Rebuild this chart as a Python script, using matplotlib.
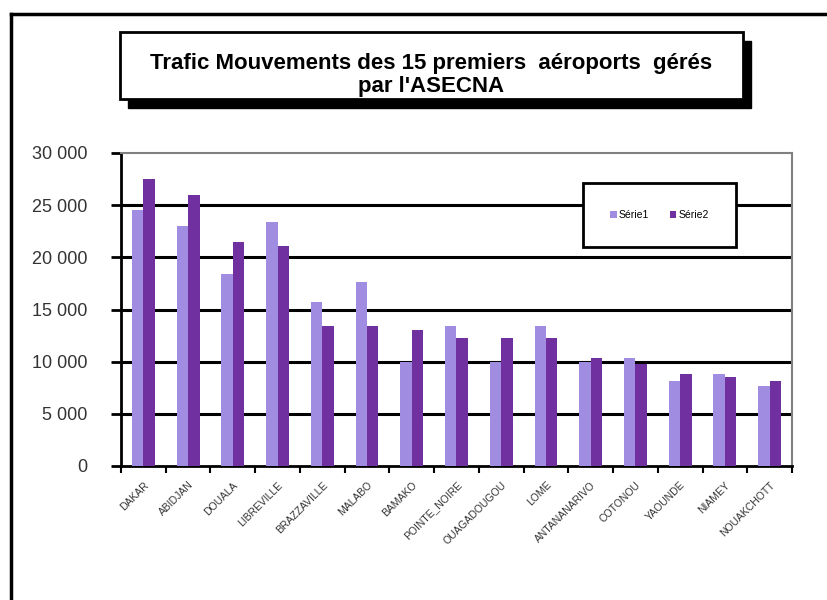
import matplotlib.pyplot as plt
import numpy as np
from matplotlib.patches import Rectangle
from matplotlib.lines import Line2D
from matplotlib.ticker import FuncFormatter

plt.rcParams['font.family'] = ['Liberation Sans', 'DejaVu Sans']

airports = ['DAKAR', 'ABIDJAN', 'DOUALA', 'LIBREVILLE', 'BRAZZAVILLE', 'MALABO',
            'BAMAKO', 'POINTE_NOIRE', 'OUAGADOUGOU', 'LOME', 'ANTANANARIVO',
            'COTONOU', 'YAOUNDE', 'NIAMEY', 'NOUAKCHOTT']
serie1 = [24500, 23000, 18400, 23400, 15700, 17600, 10000, 13400, 10000, 13400,
          10000, 10350, 8100, 8850, 7700]
serie2 = [27500, 26000, 21500, 21050, 13400, 13400, 13000, 12300, 12300, 12300,
          10350, 9800, 8850, 8500, 8100]
yticks = [0, 5000, 10000, 15000, 20000, 25000, 30000]

W, H = 828, 600
fig = plt.figure(figsize=(W / 100, H / 100), dpi=100)

# outer frame (left and top only visible)
fig.add_artist(Line2D([11 / W, 11 / W], [0, 1 - 14 / H], color='black', lw=2.5,
                      transform=fig.transFigure))
fig.add_artist(Line2D([11 / W, 1], [1 - 14 / H, 1 - 14 / H], color='black', lw=2.5,
                      transform=fig.transFigure))

# title box with shadow
bx0, by0, bx1, by1 = 120, 32, 743, 99
fig.add_artist(Rectangle(((bx0 + 8) / W, 1 - (by1 + 9) / H), (bx1 - bx0) / W, (by1 - by0) / H,
                         transform=fig.transFigure, facecolor='black', edgecolor='black'))
fig.add_artist(Rectangle((bx0 / W, 1 - by1 / H), (bx1 - bx0) / W, (by1 - by0) / H,
                         transform=fig.transFigure, facecolor='white', edgecolor='black', lw=2))
fig.text((bx0 + bx1) / 2 / W, 1 - 75 / H,
         "Trafic Mouvements des 15 premiers  aéroports  gérés\npar l'ASECNA",
         ha='center', va='center', fontsize=16, fontweight='bold', linespacing=1.15)

ax = fig.add_axes([121 / W, 1 - 466 / H, (792 - 121) / W, (466 - 153) / H])
x = np.arange(len(airports))
w = 0.255
ax.bar(x - w / 2, serie1, w, color='#a08ce0', label='Série1', zorder=3)
ax.bar(x + w / 2, serie2, w, color='#7030a0', label='Série2', zorder=3)

for v in yticks[1:-1]:
    ax.axhline(v, color='black', lw=2.2, zorder=1)

ax.set_xlim(-0.5, len(airports) - 0.5)
ax.set_ylim(0, 30000)
ax.set_yticks(yticks)
ax.yaxis.set_major_formatter(FuncFormatter(lambda v, p: f'{int(v):,}'.replace(',', ' ')))
ax.tick_params(axis='y', length=7, width=2, labelsize=13, pad=17, labelcolor='#333333')

ax.set_xticks(x)
ax.set_xticklabels(airports, rotation=45, ha='right', rotation_mode='anchor', fontsize=7.5,
                   color='#333333')
ax.set_xticks(np.arange(-0.5, len(airports), 1), minor=True)
ax.tick_params(axis='x', which='major', length=0, pad=10)
ax.tick_params(axis='x', which='minor', length=5, width=1.5)

ax.spines['left'].set_linewidth(2)
ax.spines['bottom'].set_linewidth(2)
ax.spines['top'].set_color('gray')
ax.spines['right'].set_color('gray')
ax.spines['top'].set_linewidth(1.5)
ax.spines['right'].set_linewidth(1.5)

lx0, ly0, lx1, ly1 = 582, 183, 737, 247
leg = ax.legend(loc='center', bbox_to_anchor=((lx0 + lx1) / 2 / W, 1 - (ly0 + ly1) / 2 / H),
                bbox_transform=fig.transFigure, ncol=2, fontsize=7.5, frameon=True,
                fancybox=False, edgecolor='black', framealpha=1, borderpad=2.6,
                handlelength=0.6, handleheight=0.6, handletextpad=0.2, columnspacing=2.0)
leg.get_frame().set_linewidth(2)

fig.savefig('out.png', dpi=100)
